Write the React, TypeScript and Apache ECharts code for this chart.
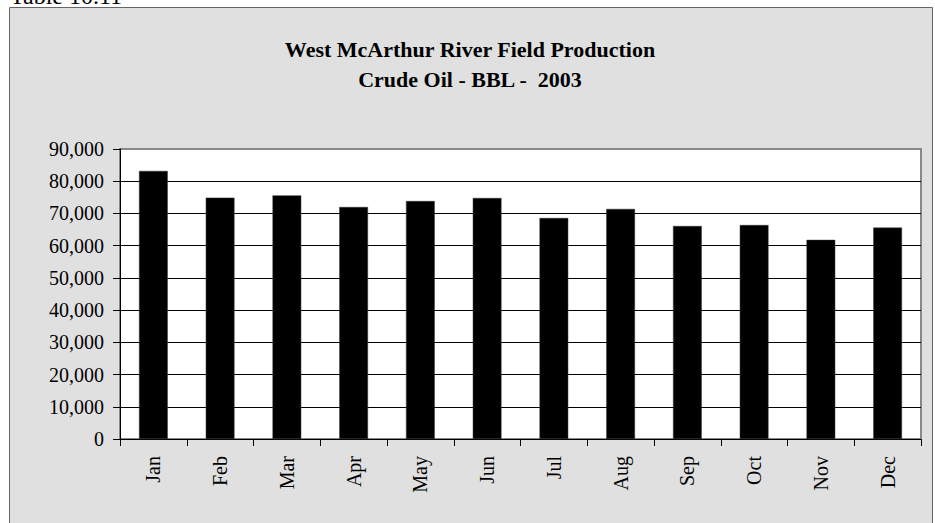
import React, { useEffect, useRef } from 'react';
import * as echarts from 'echarts';

const months = ['Jan', 'Feb', 'Mar', 'Apr', 'May', 'Jun', 'Jul', 'Aug', 'Sep', 'Oct', 'Nov', 'Dec'];
const crudeOilBbl = [83200, 74900, 75600, 72000, 73850, 74800, 68600, 71400, 66100, 66400, 61800, 65600];
const yMin = 0;
const yMax = 90000;
const yStep = 10000;
const tableLabel = 'Table 10.11';
const titleLines = ['West McArthur River Field Production', 'Crude Oil - BBL -  2003'];

const SERIF = '"Liberation Serif", "Times New Roman", Times, serif';

export default function App() {
  const ref = useRef<HTMLDivElement>(null);

  useEffect(() => {
    if (!ref.current) return;
    const chart = echarts.init(ref.current, undefined, { renderer: 'svg' });
    chart.setOption({
      animation: false,
      backgroundColor: '#ffffff',
      graphic: [
        {
          type: 'rect',
          z: -10,
          shape: { x: 9.5, y: 7.5, width: 923, height: 530 },
          style: { fill: '#e0e0e0', stroke: '#666666', lineWidth: 1 },
        },
        {
          type: 'text',
          z: 10,
          style: {
            text: tableLabel,
            x: 10,
            y: -4,
            fontFamily: SERIF,
            fontSize: 24,
            fill: '#000',
            verticalAlign: 'middle',
            textAlign: 'left',
          },
        },
        {
          type: 'text',
          z: 10,
          style: {
            text: titleLines.join('\n'),
            x: 470,
            y: 34,
            fontFamily: SERIF,
            fontSize: 22,
            fontWeight: 'bold',
            lineHeight: 30,
            fill: '#000',
            textAlign: 'center',
            verticalAlign: 'top',
          },
        },
      ],
      grid: {
        left: 120,
        right: 14,
        top: 149,
        bottom: 84,
        show: true,
        backgroundColor: '#ffffff',
        borderColor: '#888888',
        borderWidth: 2,
      },
      xAxis: {
        type: 'category',
        data: months,
        axisLine: { show: true, lineStyle: { color: '#000', width: 1 } },
        axisTick: { show: true, length: 7, lineStyle: { color: '#000' } },
        axisLabel: {
          rotate: 90,
          margin: 17,
          fontFamily: SERIF,
          fontSize: 20,
          color: '#000',
        },
        splitLine: { show: false },
      },
      yAxis: {
        type: 'value',
        min: yMin,
        max: yMax,
        interval: yStep,
        axisLine: { show: true, lineStyle: { color: '#000', width: 1 } },
        axisTick: { show: true, length: 7, lineStyle: { color: '#000' } },
        axisLabel: {
          margin: 16,
          fontFamily: SERIF,
          fontSize: 20,
          color: '#000',
          formatter: (v: number) => v.toLocaleString('en-US'),
        },
        splitLine: {
          show: true,
          showMinLine: false,
          showMaxLine: false,
          lineStyle: { color: '#000', width: 1 },
        },
      },
      series: [
        {
          type: 'bar',
          data: crudeOilBbl,
          barWidth: '43%',
          itemStyle: { color: '#000', borderColor: '#333', borderWidth: 0.5 },
        },
      ],
    });
    return () => chart.dispose();
  }, []);

  return (
    <div
      ref={ref}
      style={{ position: 'fixed', left: 0, top: 0, width: 935, height: 523 }}
    />
  );
}
